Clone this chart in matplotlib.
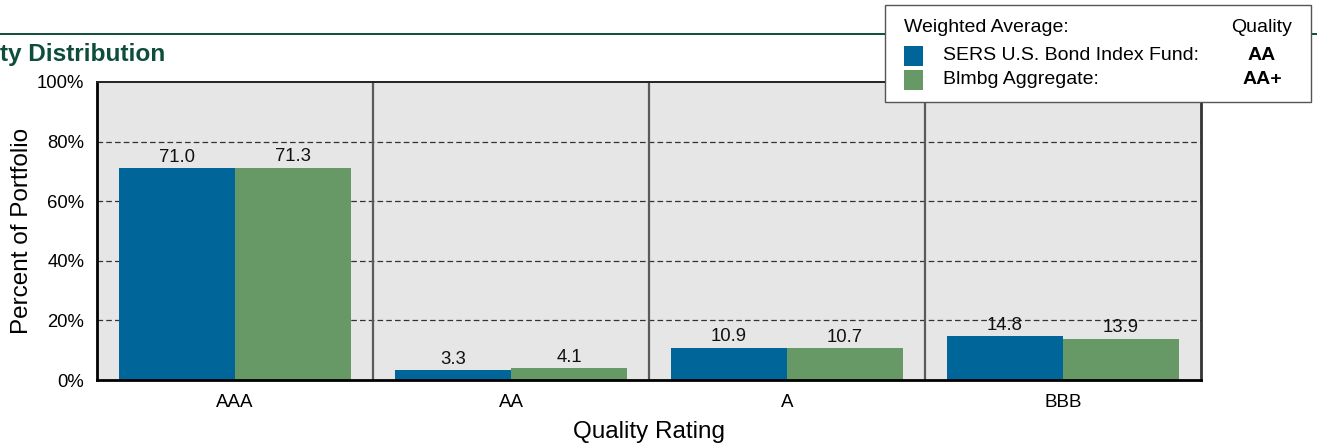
import matplotlib
matplotlib.use("Agg")
import matplotlib.pyplot as plt
from matplotlib.patches import Rectangle
import numpy as np

plt.rcParams['font.family'] = ['Liberation Sans', 'DejaVu Sans']

categories = ["AAA", "AA", "A", "BBB"]
fund_values = [71.0, 3.3, 10.9, 14.8]
index_values = [71.3, 4.1, 10.7, 13.9]
series_names = ["SERS U.S. Bond Index Fund:", "Blmbg Aggregate:"]
series_quality = ["AA", "AA+"]
yticks = [0, 20, 40, 60, 80, 100]
ytick_labels = ["0%", "20%", "40%", "60%", "80%", "100%"]

blue = "#006699"
green = "#669966"
dark_green = "#0e4d3c"

W, H = 1317, 448
fig = plt.figure(figsize=(W / 100, H / 100), dpi=100)
ax = fig.add_axes([97 / W, 1 - 380 / H, 1104 / W, 298 / H])
ax.set_facecolor("#e6e6e6")

x = np.arange(len(categories))
bw = 116 / 276
b1 = ax.bar(x - bw / 2, fund_values, bw, color=blue, zorder=3)
b2 = ax.bar(x + bw / 2, index_values, bw, color=green, zorder=3)
for bars, vals in ((b1, fund_values), (b2, index_values)):
    for r, v in zip(bars, vals):
        ax.annotate(f"{v:.1f}", (r.get_x() + r.get_width() / 2, v),
                    xytext=(0, 1.5), textcoords="offset points",
                    ha="center", va="bottom", fontsize=13.3, color="#111111", zorder=5)

ax.set_xlim(-0.5, len(categories) - 0.5)
ax.set_ylim(0, 100)
ax.set_yticks(yticks)
ax.set_yticklabels(ytick_labels, fontsize=13.3)
ax.set_xticks(x)
ax.set_xticklabels(categories, fontsize=13.5)
ax.tick_params(axis="both", length=0, pad=9)
ax.tick_params(axis="x", pad=10)
for yv in yticks[1:-1]:
    ax.axhline(yv, color="#333333", lw=0.9, ls=(0, (4.5, 2.5)), zorder=1)
for sep in x[:-1] + 0.5:
    ax.axvline(sep, color="#5a5a5a", lw=1.6, zorder=2)

ax.spines["left"].set_linewidth(2.0)
ax.spines["bottom"].set_linewidth(2.0)
ax.spines["right"].set_linewidth(2.0)
ax.spines["right"].set_color("#333333")
ax.spines["top"].set_linewidth(1.4)
ax.spines["top"].set_color("#222222")
ax.spines["bottom"].set_zorder(4)

ax.set_ylabel("Percent of Portfolio", fontsize=17.5)
ax.set_xlabel("Quality Rating", fontsize=17.5)
ax.yaxis.set_label_coords(-(97 - 33) / 1104, 0.5)
ax.xaxis.set_label_coords(0.5, -(421 - 380) / 298)

# header line and title
fig.add_artist(plt.Line2D([0, 1], [1 - 34 / H, 1 - 34 / H], color=dark_green, lw=1.4, transform=fig.transFigure))
fig.text(0, 1 - 55 / H, "ty Distribution", fontsize=17.6, fontweight="bold",
         color=dark_green, ha="left", va="center")

# legend box
fig.add_artist(Rectangle((885 / W, 1 - 102 / H), (1311 - 885) / W, (102 - 5) / H,
                         transform=fig.transFigure, facecolor="white",
                         edgecolor="#555555", lw=1.0, zorder=10))
fig.text(904 / W, 1 - 28 / H, "Weighted Average:", fontsize=14, ha="left", va="center", zorder=11)
fig.text(1292 / W, 1 - 28 / H, "Quality", fontsize=14, ha="right", va="center", zorder=11)
for i, (name, q, c) in enumerate(zip(series_names, series_quality, [blue, green])):
    yc = 56 + i * 24
    fig.add_artist(Rectangle((904 / W, 1 - (yc + 10) / H), 19 / W, 20 / H,
                             transform=fig.transFigure, facecolor=c, edgecolor="none", zorder=11))
    fig.text(943 / W, 1 - yc / H, name, fontsize=14, ha="left", va="center", zorder=11)
    fig.text(1262 / W, 1 - yc / H, q, fontsize=14, fontweight="bold", ha="center", va="center", zorder=11)

fig.savefig("out.png", dpi=100)
